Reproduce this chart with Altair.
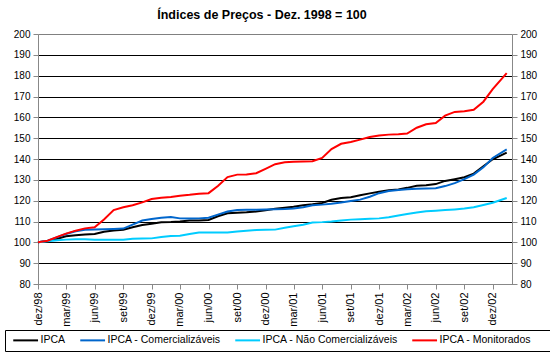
import altair as alt
import pandas as pd

# dates of the observations (Dec/98 .. Jan/03)
datas = [
    "1998-12-01",
    "1999-01-01", "1999-02-01", "1999-03-01", "1999-04-01", "1999-05-01", "1999-06-01",
    "1999-07-01", "1999-08-01", "1999-09-01", "1999-10-01", "1999-11-01", "1999-12-01",
    "2000-01-01", "2000-02-01", "2000-03-01", "2000-04-01", "2000-05-01", "2000-06-01",
    "2000-07-01", "2000-08-01", "2000-09-01", "2000-10-01", "2000-11-01", "2000-12-01",
    "2001-01-01", "2001-02-01", "2001-03-01", "2001-04-01", "2001-05-01", "2001-06-01",
    "2001-07-01", "2001-08-01", "2001-09-01", "2001-10-01", "2001-11-01", "2001-12-01",
    "2002-01-01", "2002-02-01", "2002-03-01", "2002-04-01", "2002-05-01", "2002-06-01",
    "2002-07-01", "2002-08-01", "2002-09-01", "2002-10-01", "2002-11-01", "2002-12-01",
    "2003-01-15",
]

ipca = [100.00, 100.70, 101.76, 102.88, 103.45, 103.76, 103.96, 105.09, 105.68, 106.01,
        107.27, 108.29, 108.94, 109.62, 109.76, 110.00, 110.46, 110.47, 110.73, 112.51,
        113.98, 114.24, 114.40, 114.77, 115.45, 116.11, 116.64, 117.08, 117.76, 118.24,
        118.86, 120.44, 121.28, 121.62, 122.63, 123.50, 124.30, 124.95, 125.40, 126.15,
        127.16, 127.43, 127.96, 129.48, 130.32, 131.26, 132.98, 136.50, 139.88, 143.10]

comerc = [100.0, 100.8, 102.5, 104.0, 105.3, 106.0, 106.2, 106.3, 106.4, 106.6,
          108.5, 110.5, 111.2, 111.8, 112.2, 111.5, 111.4, 111.5, 111.8, 113.3,
          114.8, 115.5, 115.6, 115.6, 115.8, 115.9, 116.0, 116.2, 116.8, 117.8,
          118.1, 118.5, 119.1, 119.8, 120.5, 121.9, 123.6, 124.6, 125.1, 125.5,
          125.7, 125.8, 126.0, 127.0, 128.4, 130.3, 132.5, 136.0, 140.5, 144.6]

naocomerc = [100.0, 100.5, 101.0, 101.3, 101.5, 101.5, 101.2, 101.2, 101.2, 101.2,
             101.7, 101.8, 101.9, 102.6, 103.0, 103.2, 104.0, 104.7, 104.7, 104.7,
             104.7, 105.2, 105.6, 105.9, 106.0, 106.1, 107.0, 107.7, 108.4, 109.5,
             109.7, 110.0, 110.5, 110.9, 111.1, 111.3, 111.5, 112.0, 112.9, 113.6,
             114.3, 114.9, 115.2, 115.5, 115.8, 116.2, 116.8, 117.9, 119.0, 121.3]

monit = [100.0, 100.8, 102.6, 104.2, 105.6, 106.7, 107.2, 111.0, 115.5, 116.8,
         117.8, 119.2, 120.8, 121.4, 121.8, 122.4, 122.8, 123.3, 123.6, 127.0,
         131.3, 132.5, 132.6, 133.2, 135.3, 137.5, 138.4, 138.7, 138.8, 138.9,
         140.5, 144.8, 147.3, 148.2, 149.3, 150.6, 151.3, 151.7, 151.9, 152.2,
         155.0, 156.7, 157.3, 160.8, 162.6, 162.9, 163.6, 167.5, 173.5, 181.2]

series_names = ["IPCA", "IPCA - Comercializáveis", "IPCA - Não Comercializáveis", "IPCA - Monitorados"]
series_colors = ["#000000", "#0066CC", "#00CCFF", "#FF0000"]

tick_labels = ["dez/98", "mar/99", "jun/99", "set/99", "dez/99", "mar/00", "jun/00", "set/00",
               "dez/00", "mar/01", "jun/01", "set/01", "dez/01", "mar/02", "jun/02", "set/02", "dez/02"]
tick_dates = [(1998, 12), (1999, 3), (1999, 6), (1999, 9), (1999, 12), (2000, 3), (2000, 6),
              (2000, 9), (2000, 12), (2001, 3), (2001, 6), (2001, 9), (2001, 12), (2002, 3),
              (2002, 6), (2002, 9), (2002, 12)]
y_ticks = [80, 90, 100, 110, 120, 130, 140, 150, 160, 170, 180, 190, 200]

rows = []
for k, (name, vals) in enumerate(zip(series_names, [ipca, comerc, naocomerc, monit])):
    for d, v in zip(datas, vals):
        rows.append({"data": d, "serie": name, "valor": v, "ordem": k})
df = pd.DataFrame(rows)

FONT = "Liberation Sans"
label_arr = "[" + ",".join("'%s'" % s for s in tick_labels) + "]"
label_expr = label_arr + "[round(((utcyear(datum.value)-1998)*12+utcmonth(datum.value)-11)/3)]"

x_scale = alt.Scale(type="utc", domain=[alt.DateTime(year=1998, month=12, date=1, utc=True),
                                         alt.DateTime(year=2003, month=2, date=1, utc=True)], nice=False)
y_scale = alt.Scale(domain=[80, 200], nice=False, zero=False)

x_axis = alt.Axis(values=[alt.DateTime(year=y, month=m, date=1, utc=True) for y, m in tick_dates],
                  labelExpr=label_expr, labelAngle=270, grid=False, title=None,
                  tickSize=5, labelPadding=3, labelFontSize=11, labelOverlap=False)

grid_color = {"condition": {"test": "datum.value == 200", "value": "#808080"}, "value": "#000000"}

lines = alt.Chart(df).mark_line(strokeWidth=2, interpolate="linear").encode(
    x=alt.X("data:T", scale=x_scale, axis=x_axis),
    y=alt.Y("valor:Q", scale=y_scale,
            axis=alt.Axis(values=y_ticks, orient="left", grid=True, gridColor=grid_color,
                          gridWidth=1, title=None, tickSize=5, labelPadding=3)),
    color=alt.Color("serie:N",
                    scale=alt.Scale(domain=series_names, range=series_colors),
                    sort=series_names,
                    legend=alt.Legend(orient="none", legendX=-33, legendY=296, direction="horizontal",
                                      title=" ", titleOrient="right", titlePadding=28,
                                      symbolType="M-0.5,0H5.7", symbolSize=64,
                                      symbolStrokeWidth=2, symbolOffset=0,
                                      labelFontSize=10.5, labelFont=FONT, labelOffset=20,
                                      labelColor="black", strokeColor="black", fillColor="white",
                                      padding=5, columnPadding=10)),
    order=alt.Order("ordem:Q"),
)

right = alt.Chart(df).mark_line(opacity=0).encode(
    x=alt.X("data:T", scale=x_scale, axis=x_axis),
    y=alt.Y("valor:Q", scale=y_scale,
            axis=alt.Axis(values=y_ticks, orient="right", grid=False, title=None,
                          tickSize=5, labelPadding=3)),
    detail="serie:N",
)

chart = alt.layer(lines, right).resolve_axis(y="independent").properties(
    width=474,
    height=250,
    autosize=alt.AutoSizeParams(type="none"),
    padding={"left": 38, "top": 34, "right": 38, "bottom": 73},
    title=alt.TitleParams("Índices de Preços - Dez. 1998 = 100", font=FONT, fontSize=12.5,
                          fontWeight="bold", anchor="middle", offset=8, dx=-13, color="black"),
).configure_view(stroke=None).configure_axis(
    labelFont=FONT, labelFontSize=11, labelColor="black",
    domainColor="black", tickColor="black", domainWidth=1, tickWidth=1,
).configure(background="white")

chart.save("out.html", embed_options={"renderer": "svg", "actions": False})
